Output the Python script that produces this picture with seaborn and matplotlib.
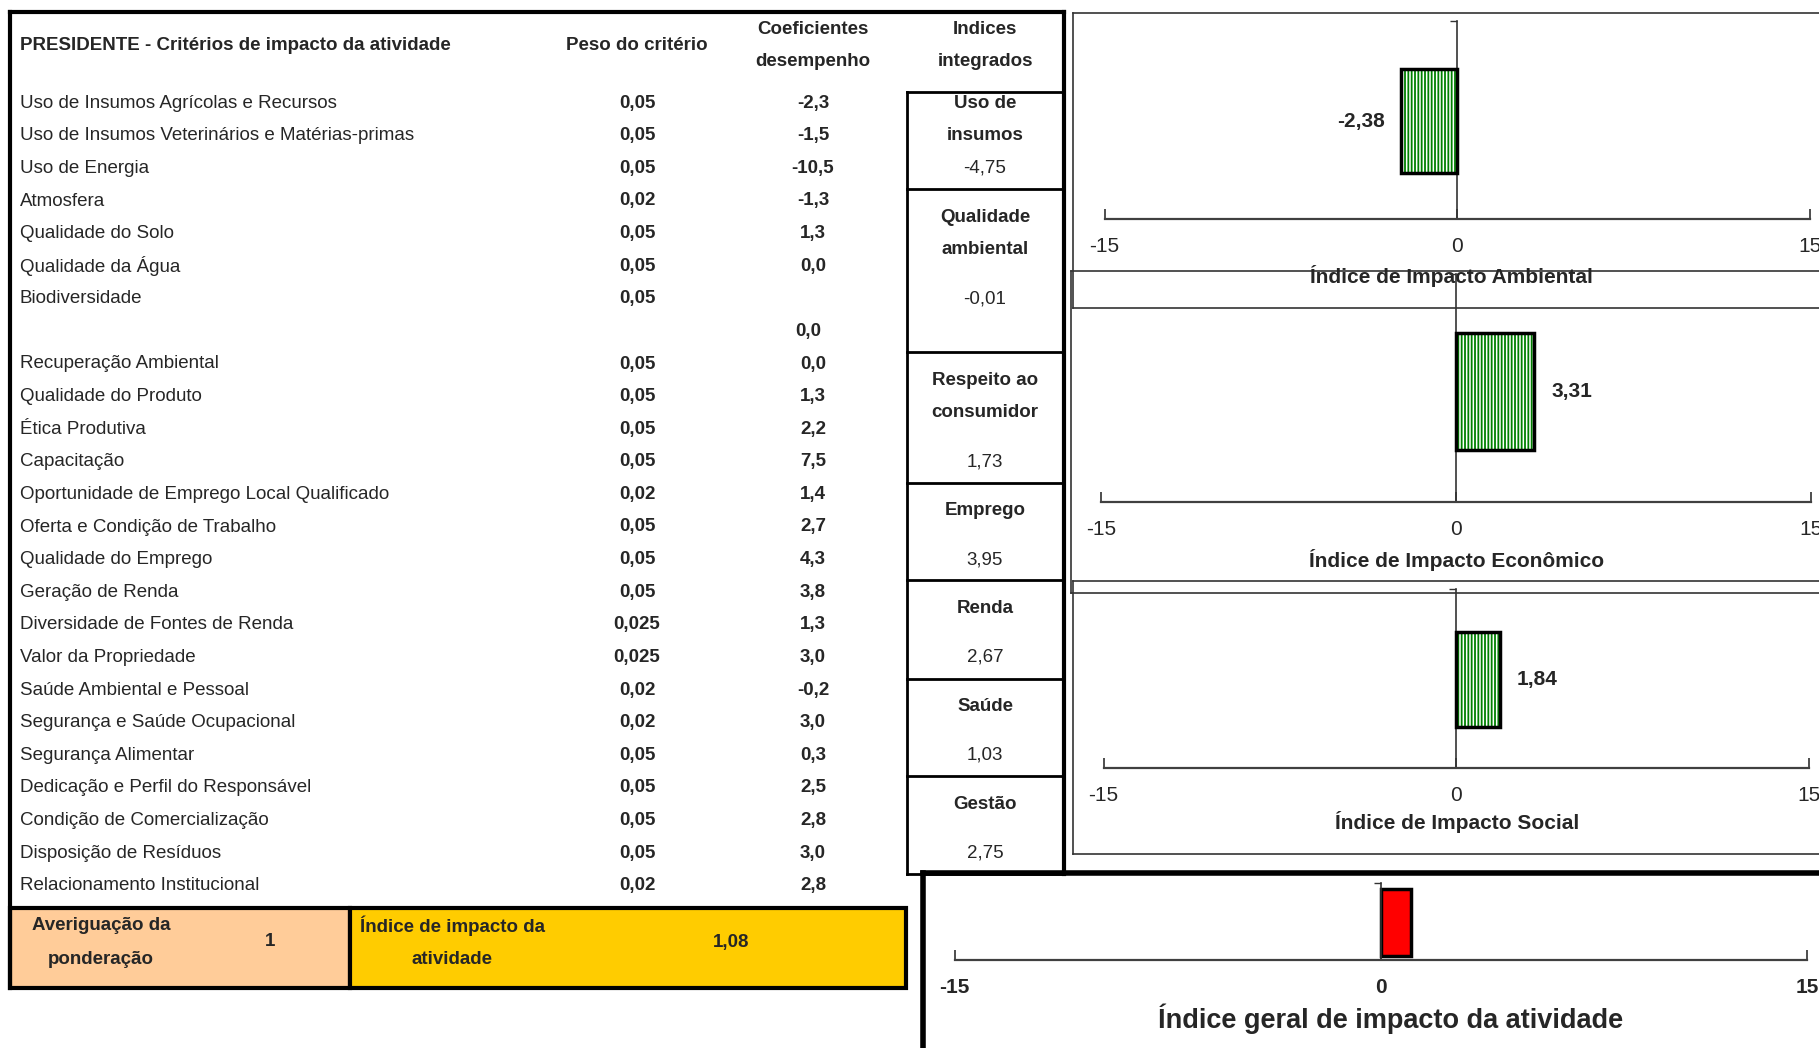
import matplotlib
matplotlib.use("Agg")
import matplotlib.pyplot as plt
from matplotlib.patches import Rectangle
import seaborn as sns
import pandas as pd

# dados da planilha
criterios = ["Uso de Insumos Agrícolas e Recursos", "Uso de Insumos Veterinários e Matérias-primas",
             "Uso de Energia", "Atmosfera", "Qualidade do Solo", "Qualidade da Água", "Biodiversidade", "",
             "Recuperação Ambiental", "Qualidade do Produto", "Ética Produtiva", "Capacitação",
             "Oportunidade de Emprego Local Qualificado", "Oferta e Condição de Trabalho",
             "Qualidade do Emprego", "Geração de Renda", "Diversidade de Fontes de Renda",
             "Valor da Propriedade", "Saúde Ambiental e Pessoal", "Segurança e Saúde Ocupacional",
             "Segurança Alimentar", "Dedicação e Perfil do Responsável", "Condição de Comercialização",
             "Disposição de Resíduos", "Relacionamento Institucional"]
pesos = [0.05, 0.05, 0.05, 0.02, 0.05, 0.05, 0.05, None, 0.05, 0.05, 0.05, 0.05, 0.02, 0.05,
         0.05, 0.05, 0.025, 0.025, 0.02, 0.02, 0.05, 0.05, 0.05, 0.05, 0.02]
coeficientes = [-2.3, -1.5, -10.5, -1.3, 1.3, 0.0, None, 0.0, 0.0, 1.3, 2.2, 7.5, 1.4, 2.7,
                4.3, 3.8, 1.3, 3.0, -0.2, 3.0, 0.3, 2.5, 2.8, 3.0, 2.8]

indices_nomes = [["Uso de", "insumos"], ["Qualidade", "ambiental"], ["Respeito ao", "consumidor"],
                 ["Emprego"], ["Renda"], ["Saúde"], ["Gestão"]]
indices_valores = [-4.75, -0.01, 1.73, 3.95, 2.67, 1.03, 2.75]

graf_nomes = ["Índice de Impacto Ambiental", "Índice de Impacto Econômico", "Índice de Impacto Social"]
graf_valores = [-2.38, 3.31, 1.84]
geral_nome = "Índice geral de impacto da atividade"
geral_valor = 1.08
averiguacao = 1

sns.set_theme(style="white")
plt.rcParams['font.family'] = ['Liberation Sans', 'DejaVu Sans']
plt.rcParams['hatch.linewidth'] = 1.3

W, H = 1819, 1048
fig = plt.figure(figsize=(W / 100, H / 100), dpi=100)
fig.patch.set_facecolor("white")

bg = fig.add_axes([0, 0, 1, 1])
bg.set_xlim(0, W)
bg.set_ylim(H, 0)
bg.axis("off")


def virgula(v, casas=None):
    if casas is None:
        return str(v).replace(".", ",")
    return f"{v:.{casas}f}".replace(".", ",")


def linha(x0, y0, x1, y1, lw=1.2, c="#333333"):
    bg.plot([x0, x1], [y0, y1], color=c, lw=lw, solid_capstyle="projecting")


FS = 13.5
ROW0, DROW = 103.2, 32.6

# --- tabela ---
bg.text(19.7, 45, "PRESIDENTE - Critérios de impacto da atividade", fontsize=FS, fontweight="bold", va="center")
bg.text(637, 45, "Peso do critério", fontsize=FS, fontweight="bold", ha="center", va="center")
bg.text(813, 29, "Coeficientes", fontsize=FS, fontweight="bold", ha="center", va="center")
bg.text(813, 61.5, "desempenho", fontsize=FS, fontweight="bold", ha="center", va="center")
bg.text(985, 29, "Indices", fontsize=FS, fontweight="bold", ha="center", va="center")
bg.text(985, 61.5, "integrados", fontsize=FS, fontweight="bold", ha="center", va="center")

for i, (nome, peso, coef) in enumerate(zip(criterios, pesos, coeficientes)):
    y = ROW0 + i * DROW
    if nome:
        bg.text(19.7, y, nome, fontsize=FS, va="center")
    if peso is not None:
        bg.text(637, y, virgula(peso), fontsize=FS, fontweight="bold", ha="center", va="center")
    if coef is not None:
        xc = 813 if nome else 808
        bg.text(xc, y, virgula(coef, 1), fontsize=FS, fontweight="bold", ha="center", va="center")

# caixas dos indices integrados
limites = [91.6, 189, 352, 482.6, 580, 678.6, 776, 873.5]
linhas_nome = [0, 3.5, 8.5, 12.5, 15.5, 18.5, 21.5]
linhas_valor = [2, 6, 11, 14, 17, 20, 23]
for k, (nomes, val) in enumerate(zip(indices_nomes, indices_valores)):
    for j, t in enumerate(nomes):
        bg.text(985, ROW0 + (linhas_nome[k] + j) * DROW, t, fontsize=FS, fontweight="bold",
                ha="center", va="center")
    bg.text(985, ROW0 + linhas_valor[k] * DROW, virgula(val, 2), fontsize=FS, ha="center", va="center")
for yb in limites:
    linha(907, yb, 1064, yb, lw=2, c="black")
linha(907, limites[0], 907, limites[-1], lw=2, c="black")

# moldura da tabela
linha(9.5, 11.5, 1064, 11.5, lw=3, c="black")
linha(9.5, 11.5, 9.5, 988, lw=3, c="black")
linha(1064, 11.5, 1064, 873.5, lw=3, c="black")

# linha final
bg.add_patch(Rectangle((9.5, 908), 340.5, 80, facecolor="#FFCC99", edgecolor="black", lw=3))
bg.add_patch(Rectangle((350, 908), 556, 80, facecolor="#FFCC00", edgecolor="black", lw=3))
bg.text(101, 926, "Averiguação da", fontsize=FS, fontweight="bold", ha="center", va="center")
bg.text(101, 959, "ponderação", fontsize=FS, fontweight="bold", ha="center", va="center")
bg.text(270, 942, str(averiguacao), fontsize=FS, fontweight="bold", ha="center", va="center")
bg.text(452, 926, "Índice de impacto da", fontsize=FS, fontweight="bold", ha="center", va="center")
bg.text(452, 959, "atividade", fontsize=FS, fontweight="bold", ha="center", va="center")
bg.text(731, 942, virgula(geral_valor, 2), fontsize=FS, fontweight="bold", ha="center", va="center")

# molduras dos graficos
linha(1073, 13, 1830, 13)
linha(1073, 13, 1073, 307.7)
linha(1073, 307.7, 1830, 307.7)
linha(1070.7, 270.7, 1830, 270.7)
linha(1070.7, 270.7, 1070.7, 593)
linha(1070.7, 593, 1830, 593)
linha(1072.7, 580.7, 1830, 580.7)
linha(1072.7, 580.7, 1072.7, 854)
linha(1072.7, 854, 1830, 854)
linha(923, 873, 1830, 873, lw=4, c="black")
linha(923, 873, 923, 1060, lw=4, c="black")


def grafico(nome, valor, geo, titulo_xy, verde=True, fs_titulo=15, negrito_ticks=False):
    x0, x1, yt, yb, bt, bb = geo
    ax = fig.add_axes([x0 / W, 1 - yb / H, (x1 - x0) / W, (yb - yt) / H])
    ax.patch.set_alpha(0)
    df = pd.DataFrame({"indice": [nome], "valor": [valor]})
    sns.barplot(data=df, x="valor", y="indice", orient="h", color="red", width=0.8,
                errorbar=None, saturation=1, ax=ax)
    for p in list(ax.patches):
        if verde:
            p.set_facecolor("white")
            p.set_edgecolor("#008000")
            p.set_hatch("|||||")
            p.set_linewidth(0)
            ax.add_patch(Rectangle(p.get_xy(), p.get_width(), p.get_height(), fill=False,
                                   edgecolor="black", lw=2.5, zorder=3))
        else:
            p.set_facecolor("#FF0000")
            p.set_edgecolor("black")
            p.set_linewidth(2.5)
    # escala vertical para posicionar a barra
    s = (bb - bt) / 0.8
    lo = 0.4 + (yb - bb) / s
    hi = -0.4 - (bt - yt) / s
    ax.set_ylim(lo, hi)
    ax.set_xlim(-15, 15)
    ax.set_xticks([-15, 0, 15])
    ax.set_xticklabels(["-15", "0", "15"], fontweight="bold" if negrito_ticks else "normal")
    ax.tick_params(axis="x", direction="in", length=7, width=1.3, color="#404040", pad=13,
                   labelsize=15, bottom=True)
    ax.set_yticks([hi])
    ax.set_yticklabels([""])
    ax.tick_params(axis="y", direction="out", length=5, width=1, color="#333333", left=True)
    for sp in ["top", "right"]:
        ax.spines[sp].set_visible(False)
    ax.spines["left"].set_position(("data", 0))
    ax.spines["left"].set_color("#333333")
    ax.spines["left"].set_linewidth(1.2)
    ax.spines["bottom"].set_color("#404040")
    ax.spines["bottom"].set_linewidth(1.6)
    ax.set_xlabel("")
    ax.set_ylabel("")
    if verde:
        off = -12 if valor < 0 else 12
        ax.annotate(virgula(valor, 2), xy=(valor, 0), xytext=(off, 0), textcoords="offset points",
                    ha="right" if valor < 0 else "left", va="center", fontsize=15, fontweight="bold")
    bg.text(titulo_xy[0], titulo_xy[1], titulo_xy[2], fontsize=fs_titulo, fontweight="bold",
            ha="center", va="center", zorder=5)
    return ax


geos = [(1104.5, 1810, 21, 219, 69, 173),
        (1101, 1811, 274, 502, 333, 450),
        (1103.5, 1809, 589, 768, 632, 727)]
titulos = [(1451, 276), (1457, 560), (1457, 822)]
for nome, val, g, t in zip(graf_nomes, graf_valores, geos, titulos):
    grafico(nome, val, g, (t[0], t[1], nome))

grafico(geral_nome, geral_valor, (954.5, 1807, 883, 960, 889, 956), (1391, 1019, geral_nome),
        verde=False, fs_titulo=19.5, negrito_ticks=True)

fig.savefig("out.png", dpi=100)
